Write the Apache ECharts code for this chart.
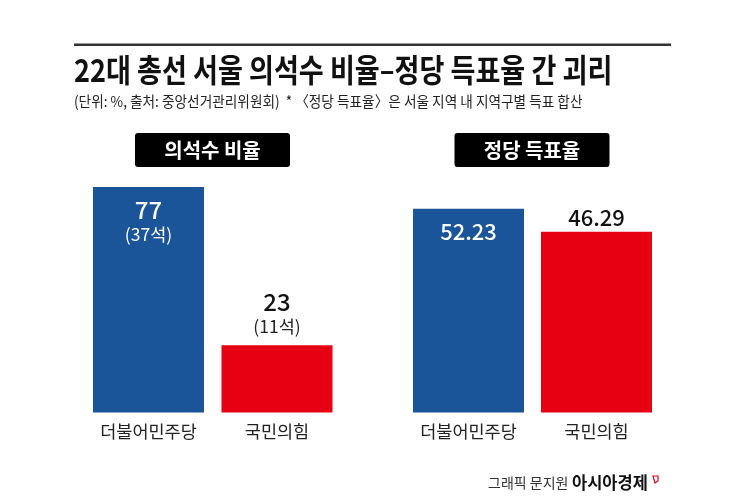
<!DOCTYPE html>
<html>
<head>
<meta charset="utf-8">
<style>
html,body{margin:0;padding:0;background:#fff;}
#chart{width:745px;height:504px;}
</style>
<script src="https://cdn.jsdelivr.net/npm/echarts@6/dist/echarts.min.js"></script>
</head>
<body>
<div id="chart"></div>
<script>
var parties=['더불어민주당','국민의힘'];
var seatShare=[77,23];
var seatCount=[37,11];
var voteShare=[52.23,46.29];
var partyColors=['#1a5499','#e60012'];
var titleText='22대 총선 서울 의석수 비율–정당 득표율 간 괴리';
var noteText='(단위: %, 출처: 중앙선거관리위원회)  * 〈정당 득표율〉은 서울 지역 내 지역구별 득표 합산';
var panelTitles=['의석수 비율','정당 득표율'];
var creditText='그래픽 문지원';
var brandText='아시아경제';

var font='"Noto Sans CJK KR"';
var chart=echarts.init(document.getElementById('chart'),null,{renderer:'canvas'});

//막대 라벨: 첫 번째는 막대 안쪽(흰색), 나머지는 바깥쪽(검정)
function seatLabel(i){
	var inside=i==0;
	return {
		show:true,
		position:inside?'insideTop':'top',
		distance:inside?10:7,
		formatter:'{v|'+seatShare[i]+'}\n{s|('+seatCount[i]+'석)}',
		rich:{
			v:{fontFamily:font,fontSize:24,lineHeight:25,fontWeight:500,color:inside?'#fff':'#111'},
			s:{fontFamily:font,fontSize:17.5,lineHeight:24,fontWeight:400,color:inside?'#fff':'#222'}
		}
	};
}
function voteLabel(i){
	var inside=i==0;
	return {
		show:true,
		position:inside?'insideTop':'top',
		distance:inside?12:3,
		formatter:voteShare[i].toFixed(2),
		fontFamily:font,
		fontSize:22,
		fontWeight:500,
		color:inside?'#fff':'#111'
	};
}
function catAxis(idx){
	return {
		type:'category',gridIndex:idx,data:parties,
		axisLine:{show:false},axisTick:{show:false},
		axisLabel:{fontFamily:font,fontSize:17.5,color:'#222',margin:10,fontWeight:400}
	};
}
function valAxis(idx,max){
	return {type:'value',gridIndex:idx,min:0,max:max,show:false,splitLine:{show:false}};
}
function panelTitle(x,text){
	return {
		type:'group',
		children:[
			{type:'rect',shape:{x:x,y:133,width:155,height:34,r:3},style:{fill:'#000'}},
			{type:'text',x:x+77.5,y:150,style:{text:text,fill:'#fff',font:'700 20px '+font,textAlign:'center',textVerticalAlign:'middle'}}
		]
	};
}

var option={
	backgroundColor:'#fff',
	animation:false,
	grid:[
		{left:84.25,top:178.3,width:257,height:234.2},
		{left:404.5,top:178.3,width:256,height:234.2}
	],
	xAxis:[catAxis(0),catAxis(1)],
	yAxis:[valAxis(0,80),valAxis(1,60)],
	series:[
		{
			type:'bar',xAxisIndex:0,yAxisIndex:0,barWidth:111,
			data:seatShare.map(function(v,i){
				return {value:v,itemStyle:{color:partyColors[i]},label:seatLabel(i)};
			})
		},
		{
			type:'bar',xAxisIndex:1,yAxisIndex:1,barWidth:111,
			data:voteShare.map(function(v,i){
				return {value:v,itemStyle:{color:partyColors[i]},label:voteLabel(i)};
			})
		}
	],
	graphic:[
		{type:'rect',shape:{x:74,y:43.5,width:597,height:2.5},style:{fill:'#333'}},
		{type:'text',x:74,y:70,scaleX:0.86,style:{text:titleText,fill:'#111',font:'700 31.5px '+font,textVerticalAlign:'middle'}},
		{type:'text',x:74,y:101,scaleX:0.91,style:{text:noteText,fill:'#222',font:'400 15px '+font,textVerticalAlign:'middle'}},
		panelTitle(135,panelTitles[0]),
		panelTitle(454.5,panelTitles[1]),
		{type:'text',x:488,y:483,style:{text:creditText,fill:'#333',font:'400 14px '+font,textVerticalAlign:'middle'}},
		{type:'text',x:572,y:483,style:{text:brandText,fill:'#111',font:'700 16.5px '+font,textVerticalAlign:'middle'}},
		{type:'polygon',shape:{points:[[653,476],[658,476],[658,481],[655,483]]},style:{fill:'none',stroke:'#e60012',lineWidth:1.2}}
	]
};
chart.setOption(option);
</script>
</body>
</html>
